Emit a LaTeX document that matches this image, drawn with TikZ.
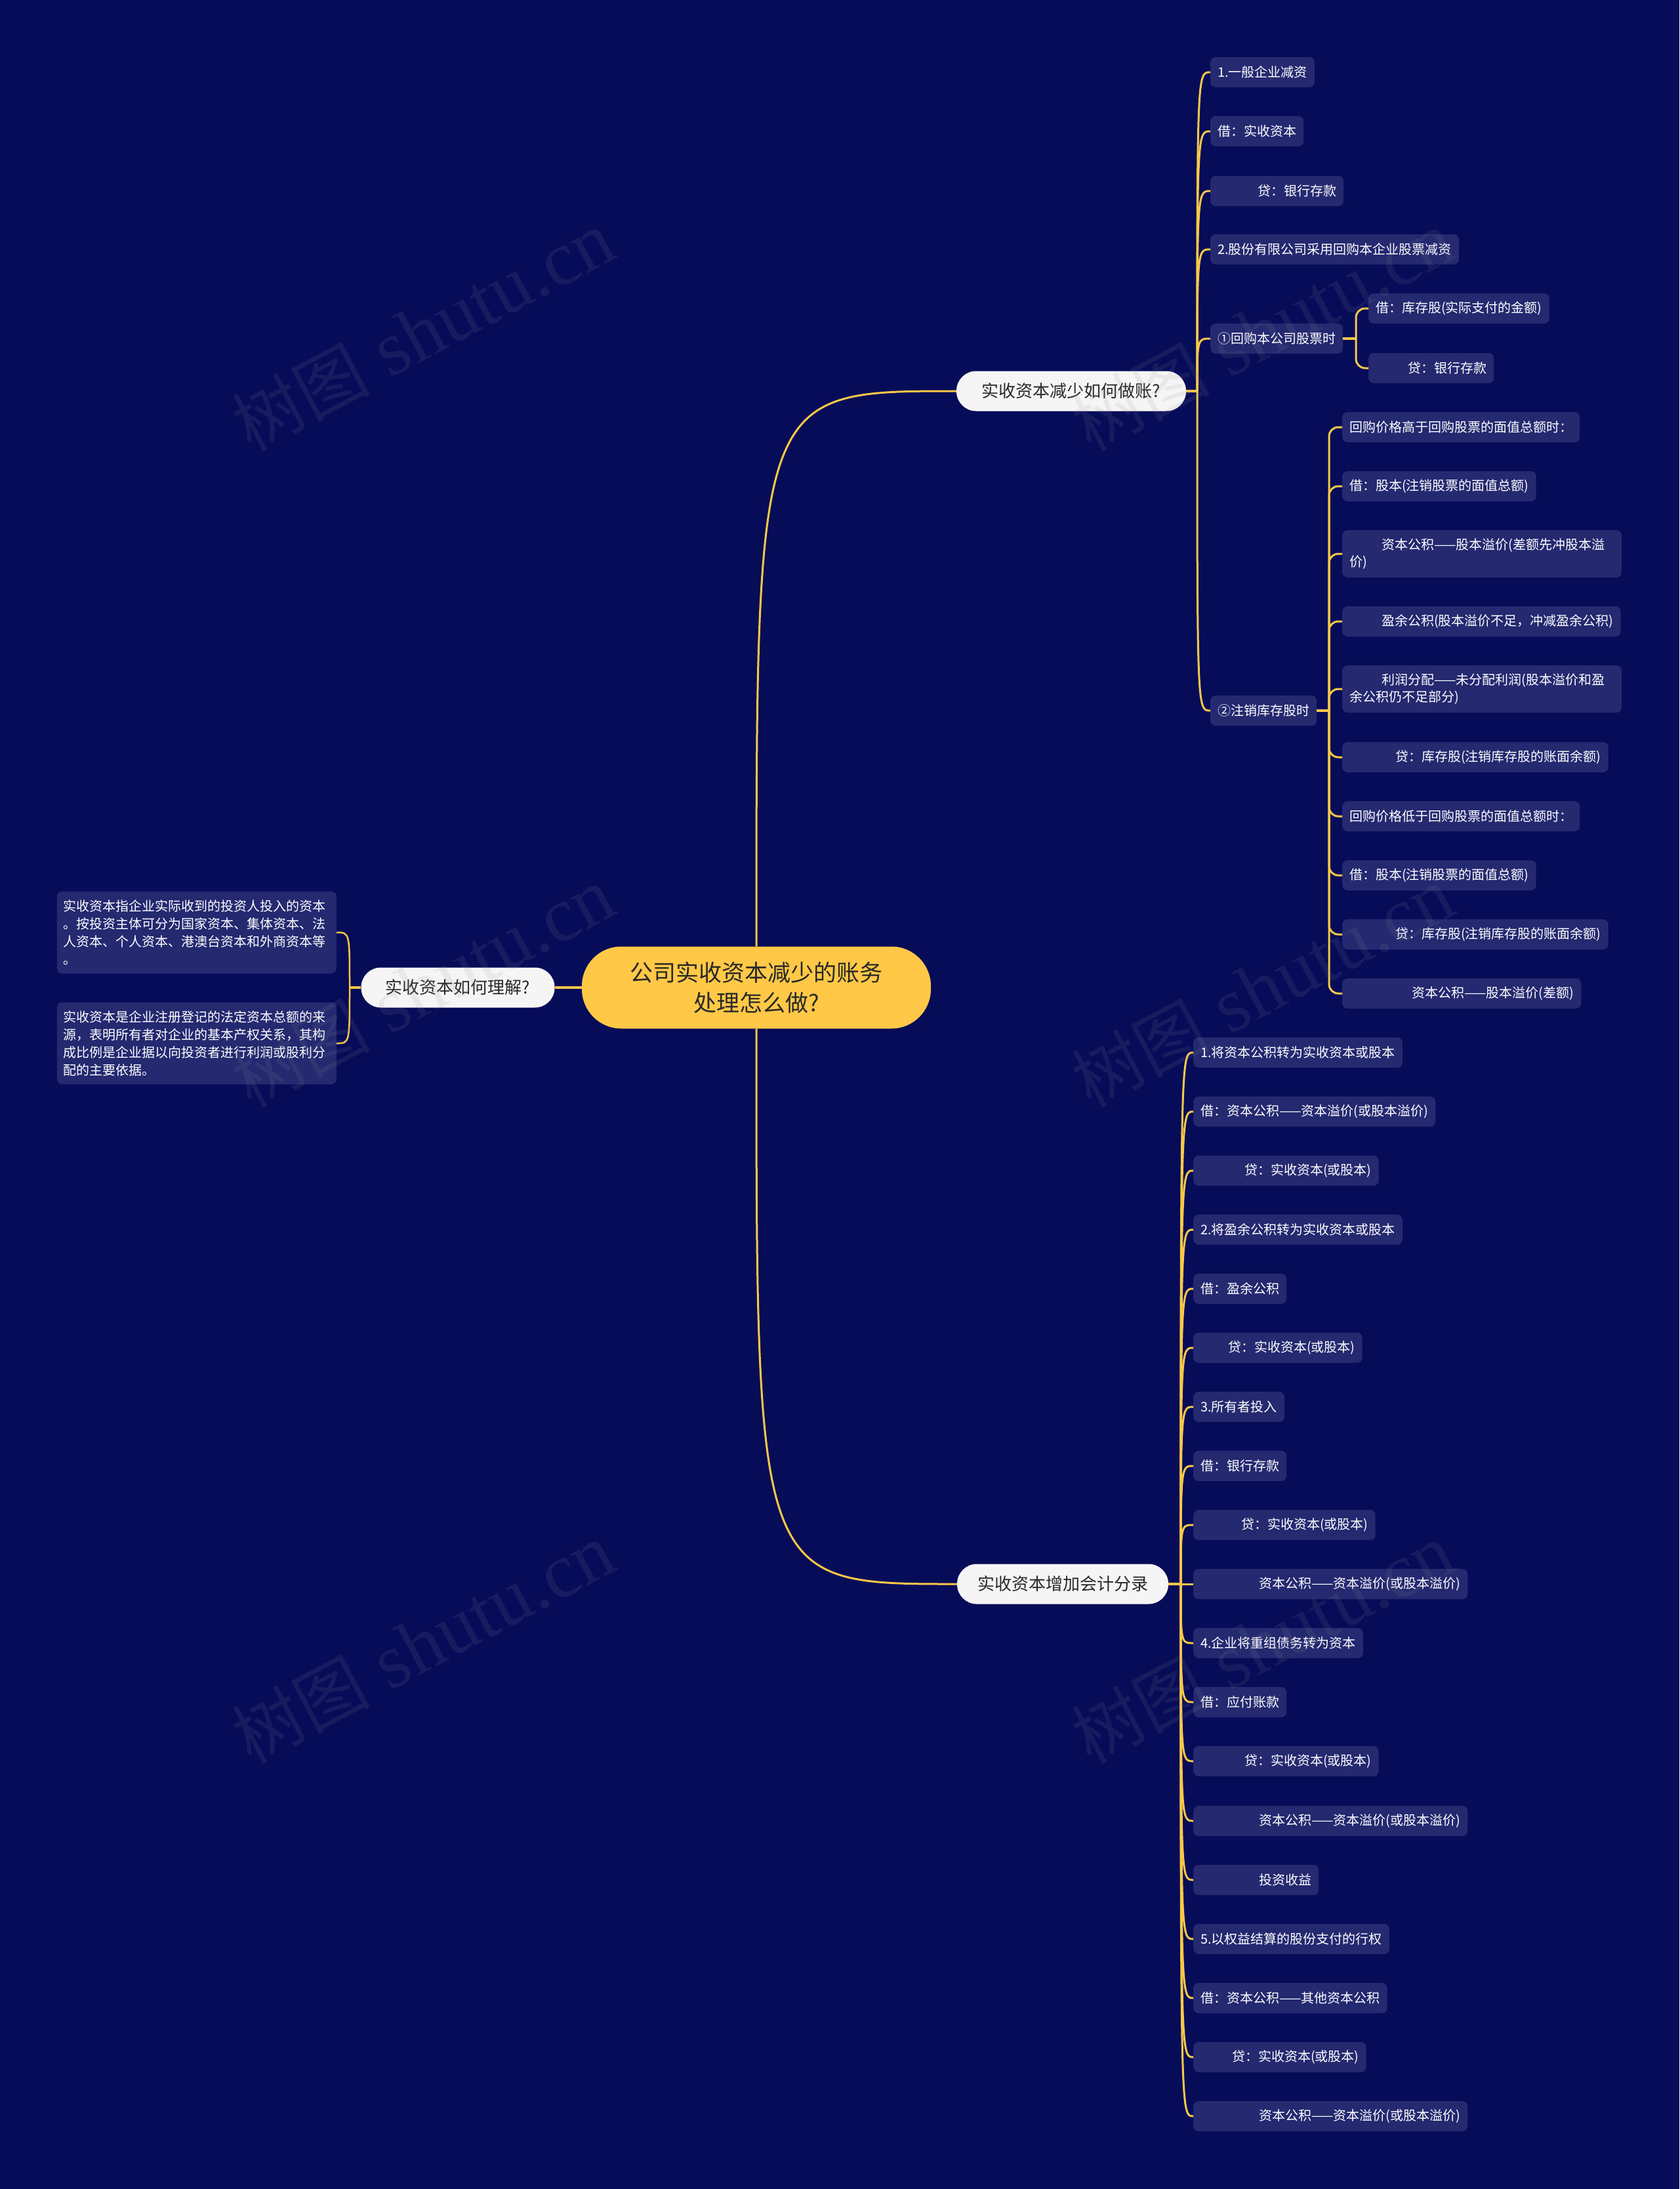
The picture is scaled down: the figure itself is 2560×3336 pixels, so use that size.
\documentclass[tikz,border=0pt]{standalone}
\usepackage{fontspec}
\newfontfamily\cjk{Noto Sans CJK SC}
\newfontfamily\wmserif{Liberation Serif}
\definecolor{bgc}{RGB}{7,12,88}
\definecolor{leafc}{RGB}{36,41,112}
\definecolor{connc}{RGB}{250,200,72}
\definecolor{rootc}{RGB}{255,200,70}
\definecolor{branchc}{RGB}{245,245,245}
\definecolor{darktext}{RGB}{40,40,40}
\definecolor{wmc}{RGB}{140,140,150}
\newcommand\myind[1]{\hspace*{#1pt}}
\begin{document}
\begin{tikzpicture}[x=1pt,y=-1pt,
  conn/.style={draw=connc, line width=3pt},
  stub/.style={draw=connc, line width=3.5pt},
  leaf/.style={fill=leafc, rounded corners=8pt, text=white,
    font={\cjk\fontsize{20pt}{26pt}\selectfont}, inner xsep=11pt, inner ysep=0pt,
    minimum height=46pt, anchor=west},
  leaftwo/.style={leaf, text width=404pt, align=left, minimum height=72pt},
  leafl/.style={fill=leafc, rounded corners=8pt, text=white,
    font={\cjk\fontsize{20pt}{27pt}\selectfont}, inner xsep=10pt, inner ysep=0pt,
    text width=406pt, align=left, minimum height=125pt, anchor=east},
  branch/.style={fill=branchc, rounded corners=30pt, text=darktext,
    font={\cjk\fontsize{26pt}{32pt}\selectfont}, minimum height=61pt, inner xsep=0pt},
  rootbox/.style={fill=rootc, rounded corners=60pt, text=darktext,
    font={\cjk\fontsize{35pt}{46pt}\selectfont}, minimum width=532pt, minimum height=125pt,
    align=center},
  wm/.style={rotate=28, text=wmc, text opacity=0.12, inner sep=0pt}
]
\useasboundingbox (0,0) rectangle (2560,3336);
\fill[bgc] (0,0) rectangle (2560,3336);

% root and branches
\node[rootbox] (root) at (1153,1505) {公司实收资本减少的账务\\处理怎么做?};
\node[branch, minimum width=295pt] (lb) at (698,1505) {实收资本如何理解?};
\node[branch, minimum width=350pt] (tb) at (1633,596) {实收资本减少如何做账?};
\node[branch, minimum width=322pt] (bb) at (1620,2414) {实收资本增加会计分录};

% left leaves
\node[leafl] (l1) at (513,1421) {\noindent 实收资本指企业实际收到的投资人投入的资本\\。按投资主体可分为国家资本、集体资本、法\\人资本、个人资本、港澳台资本和外商资本等\\。};
\node[leafl] (l2) at (513,1590) {\noindent 实收资本是企业注册登记的法定资本总额的来\\源，表明所有者对企业的基本产权关系，其构\\成比例是企业据以向投资者进行利润或股利分\\配的主要依据。};

% top branch children
\node[leaf] (c1) at (1845,110) {1.一般企业减资};
\node[leaf] (c2) at (1845,200) {借：实收资本};
\node[leaf] (c3) at (1845,291) {\myind{61}贷：银行存款};
\node[leaf] (c4) at (1845,380) {2.股份有限公司采用回购本企业股票减资};
\node[leaf] (c5) at (1845,516) {①回购本公司股票时};
\node[leaf] (c6) at (1845,1083) {②注销库存股时};

\node[leaf] (c5a) at (2086,470) {借：库存股(实际支付的金额)};
\node[leaf] (c5b) at (2086,561) {\myind{49}贷：银行存款};

\node[leaf] (d1) at (2046,651) {回购价格高于回购股票的面值总额时：};
\node[leaf] (d2) at (2046,741) {借：股本(注销股票的面值总额)};
\node[leaftwo] (d3) at (2046,844) {\noindent\myind{49}资本公积——股本溢价(差额先冲股本溢\\价)};
\node[leaf] (d4) at (2046,947) {\myind{49}盈余公积(股本溢价不足，冲减盈余公积)};
\node[leaftwo] (d5) at (2046,1050) {\noindent\myind{49}利润分配——未分配利润(股本溢价和盈\\余公积仍不足部分)};
\node[leaf] (d6) at (2046,1154) {\myind{70}贷：库存股(注销库存股的账面余额)};
\node[leaf] (d7) at (2046,1244) {回购价格低于回购股票的面值总额时：};
\node[leaf] (d8) at (2046,1334) {借：股本(注销股票的面值总额)};
\node[leaf] (d9) at (2046,1424) {\myind{70}贷：库存股(注销库存股的账面余额)};
\node[leaf] (d10) at (2046,1514) {\myind{95}资本公积——股本溢价(差额)};

% bottom branch children
\node[leaf] (b1) at (1819,1604) {1.将资本公积转为实收资本或股本};
\node[leaf] (b2) at (1819,1694) {借：资本公积——资本溢价(或股本溢价)};
\node[leaf] (b3) at (1819,1784) {\myind{67}贷：实收资本(或股本)};
\node[leaf] (b4) at (1819,1874) {2.将盈余公积转为实收资本或股本};
\node[leaf] (b5) at (1819,1964) {借：盈余公积};
\node[leaf] (b6) at (1819,2054) {\myind{42}贷：实收资本(或股本)};
\node[leaf] (b7) at (1819,2144) {3.所有者投入};
\node[leaf] (b8) at (1819,2234) {借：银行存款};
\node[leaf] (b9) at (1819,2324) {\myind{62}贷：实收资本(或股本)};
\node[leaf] (b10) at (1819,2414) {\myind{89}资本公积——资本溢价(或股本溢价)};
\node[leaf] (b11) at (1819,2504) {4.企业将重组债务转为资本};
\node[leaf] (b12) at (1819,2594) {借：应付账款};
\node[leaf] (b13) at (1819,2684) {\myind{67}贷：实收资本(或股本)};
\node[leaf] (b14) at (1819,2775) {\myind{89}资本公积——资本溢价(或股本溢价)};
\node[leaf] (b15) at (1819,2865) {\myind{89}投资收益};
\node[leaf] (b16) at (1819,2955) {5.以权益结算的股份支付的行权};
\node[leaf] (b17) at (1819,3045) {借：资本公积——其他资本公积};
\node[leaf] (b18) at (1819,3135) {\myind{48}贷：实收资本(或股本)};
\node[leaf] (b19) at (1819,3225) {\myind{89}资本公积——资本溢价(或股本溢价)};

% junctions
\coordinate (jt) at (1825,596);
\coordinate (j5) at (2067,516);
\coordinate (j6) at (2026,1083);
\coordinate (jb) at (1800,2414);
\coordinate (jl) at (533,1505);

% root connectors
\draw[conn] (root.north) .. controls (root.north |- tb.west) .. (tb.west);
\draw[conn] (root.south) .. controls (root.south |- bb.west) .. (bb.west);
\draw[draw=connc, line width=4pt] (root.west) -- (lb.east);

% left branch
\draw[stub] (lb.west) -- (jl);
\foreach \n in {l1,l2}
  \draw[conn, line width=2.5pt] (jl) .. controls (jl |- \n.east) .. (\n.east);

% top branch fan
\draw[stub] (tb.east) -- (jt);
\foreach \n in {c1,c2,c3,c4,c5,c6}
  \draw[conn] (jt) .. controls (jt |- \n.west) .. (\n.west);

% bracket for c5
\draw[stub] (c5.east) -- (j5);
\foreach \n in {c5a,c5b}
  \draw[conn, rounded corners=14pt] (j5) |- (\n.west);

% bracket for c6
\draw[stub] (c6.east) -- (j6);
\foreach \n in {d1,d2,d3,d4,d5,d6,d7,d8,d9,d10}
  \draw[conn, rounded corners=14pt] (j6) |- (\n.west);

% bottom branch fan
\draw[stub] (bb.east) -- (jb);
\foreach \n in {b1,b2,b3,b4,b5,b6,b7,b8,b9,b10,b11,b12,b13,b14,b15,b16,b17,b18,b19}
  \draw[conn] (jb) .. controls (jb |- \n.west) .. (\n.west);

% watermarks
\foreach \wx in {645,1925}
  \foreach \wy in {505,1505,2505}
    \node[wm] (wm-\wx-\wy) at (\wx,\wy) {{\cjk\fontsize{105pt}{110pt}\selectfont 树图}\hspace{30pt}{\wmserif\fontsize{118pt}{120pt}\selectfont shutu.cn}};
\end{tikzpicture}
\end{document}
